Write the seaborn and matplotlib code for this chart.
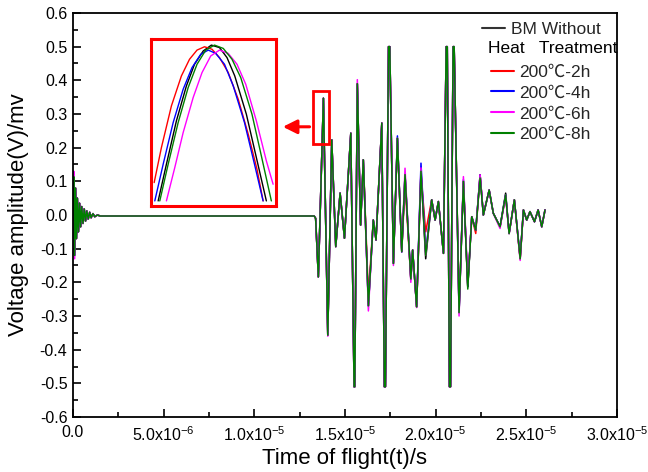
import numpy as np
import pandas as pd
import matplotlib
matplotlib.use("Agg")
import matplotlib.pyplot as plt
from matplotlib.lines import Line2D
from matplotlib.patches import Rectangle
import seaborn as sns

# ---------------- data (time in microseconds, amplitude in mV) ----------------
t_us = [0.00, 0.04, 0.09, 0.14, 0.19, 0.24, 0.30, 0.36, 0.42, 0.48,
        0.55, 0.62, 0.69, 0.76, 0.84, 0.92, 1.00, 1.10, 1.20, 1.35,
        1.50, 13.30, 13.38, 13.53, 13.81, 14.05, 14.27, 14.49, 14.73, 14.97,
        15.32, 15.50, 15.54, 15.68, 15.86, 16.01, 16.29, 16.56, 16.71, 17.03,
        17.17, 17.23, 17.40, 17.47, 17.67, 17.89, 18.13, 18.31, 18.63, 18.73,
        18.95, 19.19, 19.45, 19.78, 19.97, 20.15, 20.43, 20.58, 20.64, 20.76,
        20.82, 20.96, 21.02, 21.29, 21.53, 21.77, 21.99, 22.21, 22.45, 22.63,
        22.95, 23.18, 23.55, 23.86, 24.05, 24.34, 24.66, 24.84, 25.02, 25.20,
        25.45, 25.65, 25.85, 26.03]

bm_without = [0.0, 0.11, -0.12, 0.08, -0.07, 0.05, -0.05, 0.035, -0.035, 0.025,
              -0.025, 0.018, -0.018, 0.012, -0.012, 0.008, -0.008, 0.004, -0.005, 0.0,
              -0.003, -0.003, -0.01, -0.184, 0.347, -0.357, 0.223, -0.094, 0.065, -0.069,
              0.243, -0.51, -0.51, 0.39, -0.03, 0.164, -0.27, -0.015, -0.074, 0.273,
              -0.51, -0.51, 0.50, 0.50, -0.144, 0.228, -0.109, 0.12, -0.19, -0.104,
              -0.273, 0.13, -0.13, 0.045, -0.015, 0.04, -0.114, 0.50, 0.50, -0.51,
              -0.51, 0.50, 0.50, -0.29, 0.10, -0.213, -0.005, -0.045, 0.119, 0.0,
              0.074, 0.005, -0.035, 0.065, -0.055, 0.045, -0.13, 0.015, -0.015, 0.01,
              -0.02, 0.015, -0.035, 0.015]

h2 = [0.0, 0.10, -0.11, 0.08, -0.07, 0.05, -0.05, 0.035, -0.035, 0.025,
      -0.025, 0.018, -0.018, 0.012, -0.012, 0.008, -0.008, 0.004, -0.005, 0.0,
      -0.003, -0.003, -0.01, -0.184, 0.347, -0.357, 0.223, -0.094, 0.065, -0.069,
      0.243, -0.51, -0.51, 0.39, -0.03, 0.164, -0.24, -0.015, -0.074, 0.273,
      -0.51, -0.51, 0.50, 0.50, -0.144, 0.228, -0.109, 0.095, -0.19, -0.104,
      -0.273, 0.12, -0.05, 0.045, -0.015, 0.04, -0.114, 0.50, 0.50, -0.51,
      -0.51, 0.50, 0.50, -0.28, 0.10, -0.213, -0.005, -0.055, 0.119, 0.0,
      0.074, 0.005, -0.035, 0.055, -0.055, 0.045, -0.13, 0.015, -0.015, 0.01,
      -0.02, 0.015, -0.035, 0.015]

h4 = [0.0, 0.11, -0.12, 0.08, -0.07, 0.05, -0.05, 0.035, -0.035, 0.025,
      -0.025, 0.018, -0.018, 0.012, -0.012, 0.008, -0.008, 0.004, -0.005, 0.0,
      -0.003, -0.003, -0.01, -0.184, 0.347, -0.357, 0.223, -0.094, 0.065, -0.069,
      0.243, -0.51, -0.51, 0.39, -0.03, 0.164, -0.27, -0.015, -0.074, 0.273,
      -0.51, -0.51, 0.50, 0.50, -0.144, 0.235, -0.11, 0.12, -0.19, -0.104,
      -0.273, 0.154, -0.11, 0.045, -0.015, 0.04, -0.114, 0.50, 0.50, -0.51,
      -0.51, 0.50, 0.50, -0.29, 0.105, -0.213, -0.005, -0.045, 0.119, 0.0,
      0.074, 0.005, -0.035, 0.06, -0.055, 0.045, -0.125, 0.015, -0.015, 0.01,
      -0.02, 0.015, -0.035, 0.015]

h6 = [0.0, 0.13, -0.13, 0.08, -0.07, 0.05, -0.05, 0.035, -0.035, 0.025,
      -0.025, 0.018, -0.018, 0.012, -0.012, 0.008, -0.008, 0.004, -0.005, 0.0,
      -0.003, -0.003, -0.01, -0.184, 0.347, -0.36, 0.223, -0.094, 0.065, -0.069,
      0.243, -0.51, -0.51, 0.402, -0.03, 0.164, -0.285, -0.015, -0.074, 0.273,
      -0.51, -0.51, 0.50, 0.50, -0.15, 0.228, -0.109, 0.139, -0.20, -0.104,
      -0.275, 0.14, -0.12, 0.045, -0.015, 0.04, -0.114, 0.50, 0.50, -0.51,
      -0.51, 0.50, 0.50, -0.30, 0.114, -0.205, -0.005, -0.045, 0.119, 0.0,
      0.074, 0.005, -0.04, 0.06, -0.055, 0.045, -0.135, 0.015, -0.015, 0.01,
      -0.02, 0.015, -0.035, 0.015]

h8 = [0.0, 0.114, -0.12, 0.08, -0.07, 0.05, -0.05, 0.035, -0.035, 0.025,
      -0.025, 0.018, -0.018, 0.012, -0.012, 0.008, -0.008, 0.004, -0.005, 0.0,
      -0.003, -0.003, -0.01, -0.184, 0.347, -0.357, 0.223, -0.094, 0.065, -0.069,
      0.243, -0.51, -0.51, 0.39, -0.03, 0.164, -0.27, -0.015, -0.074, 0.273,
      -0.51, -0.51, 0.50, 0.50, -0.144, 0.228, -0.109, 0.12, -0.19, -0.104,
      -0.273, 0.13, -0.12, 0.045, -0.015, 0.04, -0.114, 0.50, 0.50, -0.51,
      -0.51, 0.50, 0.50, -0.29, 0.10, -0.22, -0.005, -0.045, 0.11, 0.0,
      0.074, 0.005, -0.035, 0.06, -0.055, 0.045, -0.13, 0.015, -0.015, 0.01,
      -0.02, 0.015, -0.035, 0.015]

series_names = ["BM Without Heat Treatment", "200℃-2h", "200℃-4h", "200℃-6h", "200℃-8h"]
series_colors = ["#000000", "#ff0000", "#0000ff", "#ff00ff", "#008000"]

# zoomed view of the first arrival peak (normalised inset coordinates)
inset_red_x = [0.027, 0.085, 0.165, 0.245, 0.31, 0.37, 0.43, 0.49, 0.55, 0.62, 0.70, 0.78, 0.85, 0.899]
inset_red_y = [0.14, 0.35, 0.60, 0.78, 0.88, 0.935, 0.955, 0.94, 0.89, 0.80, 0.64, 0.43, 0.22, 0.03]
inset_blue_x = [0.032, 0.099, 0.179, 0.259, 0.33, 0.40, 0.46, 0.52, 0.59, 0.66, 0.75, 0.83, 0.899]
inset_blue_y = [0.03, 0.25, 0.50, 0.70, 0.83, 0.91, 0.935, 0.915, 0.85, 0.72, 0.50, 0.25, 0.03]
inset_black_x = [0.059, 0.125, 0.205, 0.285, 0.35, 0.42, 0.485, 0.55, 0.61, 0.672, 0.765, 0.845, 0.925]
inset_black_y = [0.03, 0.25, 0.51, 0.72, 0.85, 0.93, 0.965, 0.95, 0.89, 0.78, 0.55, 0.29, 0.03]
inset_green_x = [0.072, 0.139, 0.219, 0.299, 0.37, 0.44, 0.51, 0.58, 0.65, 0.72, 0.81, 0.885, 0.965]
inset_green_y = [0.03, 0.25, 0.50, 0.71, 0.85, 0.935, 0.965, 0.945, 0.88, 0.77, 0.55, 0.30, 0.03]
inset_magenta_x = [0.125, 0.192, 0.259, 0.339, 0.41, 0.48, 0.55, 0.62, 0.69, 0.76, 0.845, 0.925, 0.979]
inset_magenta_y = [0.03, 0.23, 0.44, 0.65, 0.80, 0.90, 0.935, 0.915, 0.85, 0.73, 0.51, 0.27, 0.13]

x_ticks = [0.0, 5e-6, 1e-5, 1.5e-5, 2e-5, 2.5e-5, 3e-5]
x_tick_labels = ["0.0", "5.0x10$^{-6}$", "1.0x10$^{-5}$", "1.5x10$^{-5}$",
                 "2.0x10$^{-5}$", "2.5x10$^{-5}$", "3.0x10$^{-5}$"]
y_ticks = [-0.6, -0.5, -0.4, -0.3, -0.2, -0.1, 0.0, 0.1, 0.2, 0.3, 0.4, 0.5, 0.6]

# ---------------- style ----------------
sns.set_theme(style="white")
plt.rcParams["font.family"] = ["Liberation Sans", "Noto Sans CJK SC", "DejaVu Sans"]
plt.rcParams["mathtext.fontset"] = "custom"
plt.rcParams["mathtext.rm"] = "Liberation Sans"
plt.rcParams["mathtext.it"] = "Liberation Sans:italic"
plt.rcParams["axes.unicode_minus"] = False

fig = plt.figure(figsize=(6.48, 4.72), dpi=100)
ax = fig.add_axes([73 / 648, 1 - 417 / 472, 544 / 648, 404 / 472])

rows = []
for name, vals in zip(series_names, [bm_without, h2, h4, h6, h8]):
    for t, v in zip(t_us, vals):
        rows.append((t * 1e-6, v, name))
df = pd.DataFrame(rows, columns=["t", "v", "series"])

sns.lineplot(data=df, x="t", y="v", hue="series", hue_order=series_names,
             palette=dict(zip(series_names, series_colors)), estimator=None,
             sort=False, linewidth=1.1, legend=False, ax=ax)

ax.set_xlim(0, 3e-5)
ax.set_ylim(-0.6, 0.6)
ax.set_xticks(x_ticks)
ax.set_xticklabels(x_tick_labels)
ax.set_yticks(y_ticks)
ax.set_yticklabels([f"{round(v, 1):.1f}" for v in y_ticks])
ax.set_xticks([2.5e-6, 7.5e-6, 1.25e-5, 1.75e-5, 2.25e-5, 2.75e-5], minor=True)
ax.set_yticks([round(-0.55 + 0.1 * i, 2) for i in range(12)], minor=True)
ax.tick_params(which="both", direction="in", bottom=True, left=True, top=False,
               right=False, labelsize=11.5, colors="black")
ax.tick_params(which="major", length=6, width=1.2)
ax.tick_params(which="minor", length=3.5, width=1.2)
ax.tick_params(axis="x", pad=6)
ax.tick_params(axis="y", pad=4)
for s in ax.spines.values():
    s.set_color("black")
    s.set_linewidth(1.3)

ax.set_xlabel("Time of flight(t)/s", fontsize=16, labelpad=3, color="black")
ax.set_ylabel("Voltage amplitude(V)/mv", fontsize=16, labelpad=8, color="black")

# small highlight box and arrow
ax.add_patch(Rectangle((13.25e-6, 0.211), 0.87e-6, 0.156, fill=False,
                       edgecolor="#ff0000", linewidth=2.0, zorder=5))
ax.annotate("", xy=(11.42e-6, 0.262), xytext=(13.2e-6, 0.262),
            arrowprops=dict(arrowstyle="-|>,head_length=0.7,head_width=0.35",
                            color="#ff0000", lw=2.2), zorder=5)

# inset axes
axin = ax.inset_axes([4.29e-6, 0.027, 6.89e-6, 0.495], transform=ax.transData)
inset_sets = [(inset_black_x, inset_black_y, "#000000"),
              (inset_red_x, inset_red_y, "#ff0000"),
              (inset_blue_x, inset_blue_y, "#0000ff"),
              (inset_magenta_x, inset_magenta_y, "#ff00ff"),
              (inset_green_x, inset_green_y, "#008000")]
for xs, ys, c in inset_sets:
    sns.lineplot(x=xs, y=ys, color=c, linewidth=1.0, sort=False,
                 estimator=None, ax=axin)
axin.set_xlim(0, 1)
axin.set_ylim(0, 1)
axin.set_xticks([])
axin.set_yticks([])
axin.set_xlabel("")
axin.set_ylabel("")
axin.set_facecolor("white")
for s in axin.spines.values():
    s.set_color("#ff0000")
    s.set_linewidth(2.2)

# legend
fs_leg = 12.5
leg1 = ax.legend(handles=[Line2D([], [], color="#333333", lw=1.5)], labels=["BM Without"],
                 loc="upper left", bbox_to_anchor=(0.752, 0.978), frameon=False,
                 fontsize=fs_leg, handlelength=1.3, handletextpad=0.35,
                 borderpad=0, borderaxespad=0)
ax.add_artist(leg1)
ax.text(0.762, 0.913, "Heat   Treatment", transform=ax.transAxes, fontsize=fs_leg,
        ha="left", va="center", color="black")
handles = [Line2D([], [], color=c, lw=1.5) for c in series_colors[1:]]
leg2 = ax.legend(handles=handles, labels=series_names[1:], loc="upper left",
                 bbox_to_anchor=(0.769, 0.872), frameon=False, fontsize=fs_leg,
                 handlelength=1.3, handletextpad=0.3, labelspacing=0.32,
                 borderpad=0, borderaxespad=0)

fig.savefig("out.png", dpi=100)
